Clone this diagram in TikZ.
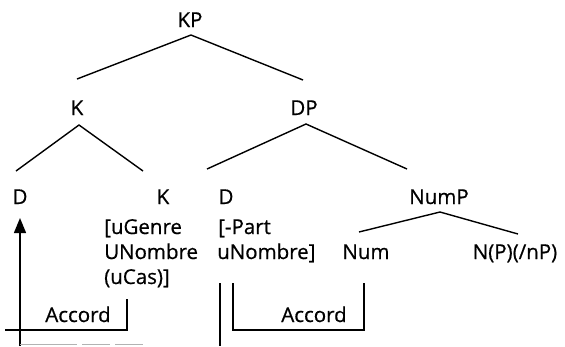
\documentclass[tikz,border=0pt]{standalone}
\usepackage{fontspec}
\setmainfont{Open Sans}[FakeBold=0.6]
\usetikzlibrary{calc,arrows.meta}
\begin{document}
\begin{tikzpicture}[x=1bp,y=-1bp,
  lbl/.style={inner sep=0pt,anchor=base,font=\fontsize{20.5bp}{25bp}\selectfont},
  feat/.style={inner sep=0pt,anchor=base west,font=\fontsize{20.5bp}{25bp}\selectfont},
  branch/.style={line width=1.4bp},
  link/.style={line width=1.4bp},
  ghost/.style={line width=0.8bp,black!30}]
\useasboundingbox (0,0) rectangle (565,346);

% tree labels
\node[lbl] (KP) at (190,27) {KP};
\node[lbl] (K1) at (77,115) {K};
\node[lbl] (DP) at (304,115) {DP};
\node[lbl] (D1) at (20,204) {D};
\node[lbl] (K2) at (163,204) {K};
\node[lbl] (D2) at (226,204) {D};
\node[lbl] (NumP) at (439,204) {NumP};
\node[lbl] (Num) at (366,259) {Num};
\node[lbl] (NP) at (515,259) {N(P)(/nP)};

% feature bundles
\node[feat] (kf1) at (104,234) {[uGenre};
\node[feat] (kf2) at (104,259) {UNombre};
\node[feat] (kf3) at (104,284) {(uCas)]};
\node[feat] (df1) at (218,234) {[-Part};
\node[feat] (df2) at (217,259) {uNombre]};

% branch points
\coordinate (KP-a) at (191,35);
\coordinate (KP-l) at (77,79);
\coordinate (KP-r) at (303,80);
\coordinate (K1-a) at (79,125);
\coordinate (K1-l) at (16,171);
\coordinate (K1-r) at (143,171);
\coordinate (DP-a) at (306,124);
\coordinate (DP-l) at (207,169);
\coordinate (DP-r) at (407,169);
\coordinate (NumP-a) at (440,212);
\coordinate (NumP-l) at (359,232);
\coordinate (NumP-r) at (518,234);

\draw[branch] (KP-l) -- (KP-a) -- (KP-r);
\draw[branch] (K1-l) -- (K1-a) -- (K1-r);
\draw[branch] (DP-l) -- (DP-a) -- (DP-r);
\draw[branch] (NumP-l) -- (NumP-a) -- (NumP-r);

% agreement links
\coordinate (arr-b) at (20,346);
\coordinate (arr-t) at (20,218);
\coordinate (acc1-l) at (5,330);
\coordinate (acc1-c) at (127,330);
\coordinate (acc1-t) at (127,299);
\node[lbl] (acc1) at (78,322) {Accord};
\draw[link,-{Triangle[length=15bp,width=12bp]}] (arr-b) -- (arr-t);
\draw[link] (acc1-l) -- (acc1-c) -- (acc1-t);
\draw[ghost] (20,344) -- (77,344) (82,344) -- (110,344) (115,344) -- (143,344);

\coordinate (bar-t) at (220,283);
\coordinate (bar-b) at (220,346);
\coordinate (acc2-a) at (233,283);
\coordinate (acc2-b) at (233,330);
\coordinate (acc2-c) at (364,330);
\coordinate (acc2-d) at (364,283);
\node[lbl] (acc2) at (314,322) {Accord};
\draw[link] (bar-t) -- (bar-b);
\draw[link] (acc2-a) -- (acc2-b) -- (acc2-c) -- (acc2-d);
\end{tikzpicture}
\end{document}
